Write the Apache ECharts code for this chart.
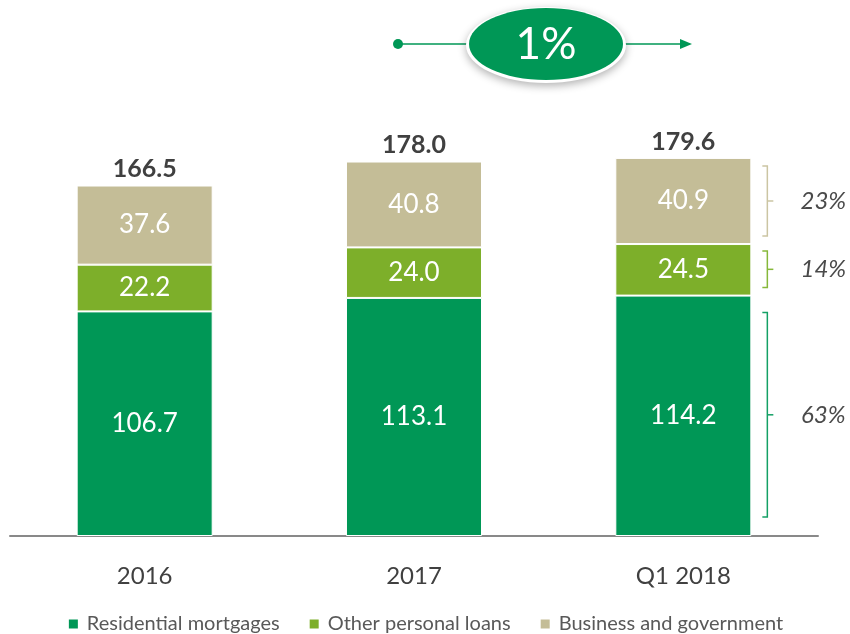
<!DOCTYPE html>
<html>
<head>
<meta charset="utf-8">
<script src="https://cdn.jsdelivr.net/npm/echarts@6/dist/echarts.min.js"></script>
<style>
  html, body { margin: 0; padding: 0; background: #fff; }
  #chart { width: 850px; height: 634px; }
</style>
</head>
<body>
<div id="chart"></div>
<script>
const categories = ['2016', '2017', 'Q1 2018']
const mortgages = [106.7, 113.1, 114.2]
const personal = [22.2, 24.0, 24.5]
const business = [37.6, 40.8, 40.9]
const totals = [166.5, 178.0, 179.6]
const shares = ['63%', '14%', '23%']   // mix for last bar, bottom to top
const growth = '1%'

const FONT = 'Lato'
const colors = ['#009756', '#7daf2a', '#c4bd97']
const bracketColors = ['#14a065', '#86b83a', '#cbc5a3']

const chart = echarts.init(document.getElementById('chart'))

const segLabel = {
    show: true,
    position: 'inside',
    color: '#fff',
    fontFamily: FONT,
    fontSize: 26,
    formatter: p => p.value.toFixed(1)
}

function segSeries(name, data, i){
    return {
        name, type: 'bar', stack: 'loans', data,
        barWidth: '50.5%',
        itemStyle: { color: colors[i], borderColor: '#fff', borderWidth: 1 },
        label: segLabel,
        emphasis: { disabled: true }
    }
}

chart.setOption({
    animation: false,
    grid: { left: 10, right: 32, top: 115, bottom: 98, containLabel: false },
    legend: {
        top: 609,
        left: 'center',
        icon: 'rect',
        itemWidth: 11, itemHeight: 11,
        itemGap: 28,
        data: ['Residential mortgages', 'Other personal loans', 'Business and government'],
        textStyle: { color: '#595959', fontFamily: FONT, fontSize: 20, padding: [0, 0, 0, 3] }
    },
    xAxis: {
        type: 'category',
        data: categories,
        axisLine: { lineStyle: { color: '#898989', width: 2 } },
        axisTick: { show: false },
        axisLabel: { color: '#404040', fontFamily: FONT, fontSize: 24, margin: 28 }
    },
    yAxis: { type: 'value', min: 0, max: 200, show: false, splitLine: { show: false } },
    series: [
        segSeries('Residential mortgages', mortgages, 0),
        segSeries('Other personal loans', personal, 1),
        segSeries('Business and government', business, 2),
        {
            // zero-height cap to carry the totals
            name: 'Total', type: 'bar', stack: 'loans',
            data: totals.map(() => 0),
            barWidth: '50.5%',
            itemStyle: { color: 'transparent' },
            label: {
                show: true, position: 'top', distance: 4,
                color: '#404040', fontFamily: FONT, fontSize: 25, fontWeight: 'bold',
                formatter: p => totals[p.dataIndex].toFixed(1)
            },
            emphasis: { disabled: true }
        }
    ]
})

// brackets + shares next to the last bar, positioned from the axis scales
function drawAnnotations(){
    const last = categories.length - 1
    const cx = chart.convertToPixel({ xAxisIndex: 0 }, categories[last])
    const c2 = chart.convertToPixel({ xAxisIndex: 0 }, categories[last - 1])
    const barRight = cx + Math.abs(cx - c2) * 0.505 / 2
    const bx = barRight + 16
    const stacks = [mortgages[last], personal[last], business[last]]
    const insets = [[19, 17], [8, 7], [8, 8]]   // [bottom, top] px
    const els = []
    let base = 0
    stacks.forEach((v, i) => {
        const y0 = chart.convertToPixel({ yAxisIndex: 0 }, base) - insets[i][0]
        const y1 = chart.convertToPixel({ yAxisIndex: 0 }, base + v) + insets[i][1]
        const ym = (y0 + y1) / 2
        els.push({
            type: 'polyline',
            shape: { points: [[bx - 5, y1], [bx, y1], [bx, y0], [bx - 5, y0]] },
            style: { stroke: bracketColors[i], lineWidth: 1.5, fill: null }
        })
        els.push({
            type: 'line',
            shape: { x1: bx, y1: ym, x2: bx + 6, y2: ym },
            style: { stroke: bracketColors[i], lineWidth: 1.5 }
        })
        els.push({
            type: 'text',
            x: barRight + 72, y: ym,
            style: {
                text: shares[i], fill: '#4a4a4a', fontFamily: FONT, fontSize: 24,
                fontStyle: 'italic', align: 'center', verticalAlign: 'middle'
            }
        })
        base += v
    })

    // growth badge
    els.push(
        { type: 'line', shape: { x1: 398, y1: 44, x2: 682, y2: 44 }, style: { stroke: '#009756', lineWidth: 1.6 } },
        { type: 'circle', shape: { cx: 398, cy: 44, r: 5 }, style: { fill: '#009756' } },
        { type: 'polygon', shape: { points: [[680, 39], [692, 44], [680, 49]] }, style: { fill: '#009756' } },
        {
            type: 'ellipse', z: 10,
            shape: { cx: 546, cy: 45, rx: 80, ry: 38 },
            style: { fill: '#fff', shadowBlur: 8, shadowColor: 'rgba(0,0,0,0.3)', shadowOffsetY: 3 }
        },
        {
            type: 'ellipse', z: 11,
            shape: { cx: 546, cy: 44, rx: 77, ry: 36 },
            style: { fill: '#009756' }
        },
        {
            type: 'text', z: 12, x: 546, y: 45,
            style: {
                text: growth, fill: '#fff', fontFamily: FONT, fontSize: 44,
                align: 'center', verticalAlign: 'middle'
            }
        }
    )
    chart.setOption({ graphic: { elements: els } })
}

drawAnnotations()
</script>
</body>
</html>
